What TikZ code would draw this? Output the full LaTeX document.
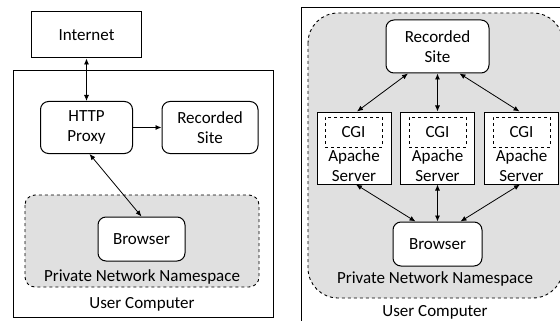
\documentclass[tikz,border=0pt]{standalone}
\usepackage{fontspec}
\setmainfont{Carlito}
\usetikzlibrary{arrows.meta}

\tikzset{
	rbox/.style={draw, line width=1pt, rounded corners=8pt, fill=white, align=center},
	srvbox/.style={draw, line width=1pt, fill=white, minimum width=74pt, minimum height=72pt},
	cgibox/.style={draw, line width=0.9pt, dashed, minimum width=57pt, minimum height=30pt, inner sep=0pt},
	nsarea/.style={draw, line width=0.9pt, dashed, fill=black!12},
	lbl/.style={anchor=base, inner sep=0pt, align=center},
	link/.style={line width=0.8pt}
}

\begin{document}
\begin{tikzpicture}[x=1pt, y=-1pt, >={Latex[length=6pt,width=5pt]}, font=\fontsize{17}{20}\selectfont]
	\useasboundingbox (0,0) rectangle (560,321);
	% left: single proxy
	\draw[line width=1pt] (13,71) rectangle (273,317);
	\draw[nsarea, rounded corners=10pt] (25,195) rectangle (259,287);
	\node (inet) [draw, line width=1pt, fill=white, minimum width=110pt, minimum height=46pt] at (86.5,35) {Internet};
	\node (proxy) [rbox, minimum width=92pt, minimum height=52pt] at (86.5,127.5) {HTTP\\Proxy};
	\node (siteA) [rbox, minimum width=96pt, minimum height=52pt] at (210,127.5) {Recorded\\Site};
	\node (brwA) [rbox, minimum width=87pt, minimum height=44pt] at (141.5,239) {Browser};
	\node (nsA) [lbl] at (142,281) {Private Network Namespace};
	\node (ucA) [lbl] at (142,308) {User Computer};
	\draw[link, <->] (inet.south) -- (proxy.north);
	\draw[link, ->] (proxy.east) -- (siteA.west);
	\draw[link, <->] ([xshift=3pt]proxy.south) -- (brwA.north);

	% right: one server per site
	\draw[line width=1pt] (301,8) rectangle (566,330);
	\draw[nsarea, rounded corners=30pt] (308,13) rectangle (563,298);
	\node (siteB) [rbox, minimum width=103pt, minimum height=53pt] at (437.5,46.5) {Recorded\\Site};
	\node (srv1) [srvbox] at (354,148) {};
	\node (srv2) [srvbox] at (437.5,148) {};
	\node (srv3) [srvbox] at (521.5,148) {};
	\node (cgi1) [cgibox] at (353.5,132) {CGI};
	\node (cgi2) [cgibox] at (437.5,132) {CGI};
	\node (cgi3) [cgibox] at (521.5,132) {CGI};
	\node (apa1) [anchor=south, inner sep=3pt, align=center] at (srv1.south) {Apache\\Server};
	\node (apa2) [anchor=south, inner sep=3pt, align=center] at (srv2.south) {Apache\\Server};
	\node (apa3) [anchor=south, inner sep=3pt, align=center] at (srv3.south) {Apache\\Server};
	\node (brwB) [rbox, minimum width=89pt, minimum height=44pt] at (437.5,244) {Browser};
	\node (nsB) [lbl] at (435,283) {Private Network Namespace};
	\node (ucB) [lbl] at (435,316) {User Computer};
	\draw[link, <->] ([xshift=-29.5pt]siteB.south) -- ([xshift=3pt]srv1.north);
	\draw[link, <->] (siteB.south) -- (srv2.north);
	\draw[link, <->] ([xshift=22pt]siteB.south) -- ([xshift=-2pt]srv3.north);
	\draw[link, <->] ([xshift=2pt]srv1.south) -- ([xshift=-22pt]brwB.north);
	\draw[link, <->] (srv2.south) -- (brwB.north);
	\draw[link, <->] ([xshift=-1.5pt]srv3.south) -- ([xshift=23pt]brwB.north);
\end{tikzpicture}
\end{document}
